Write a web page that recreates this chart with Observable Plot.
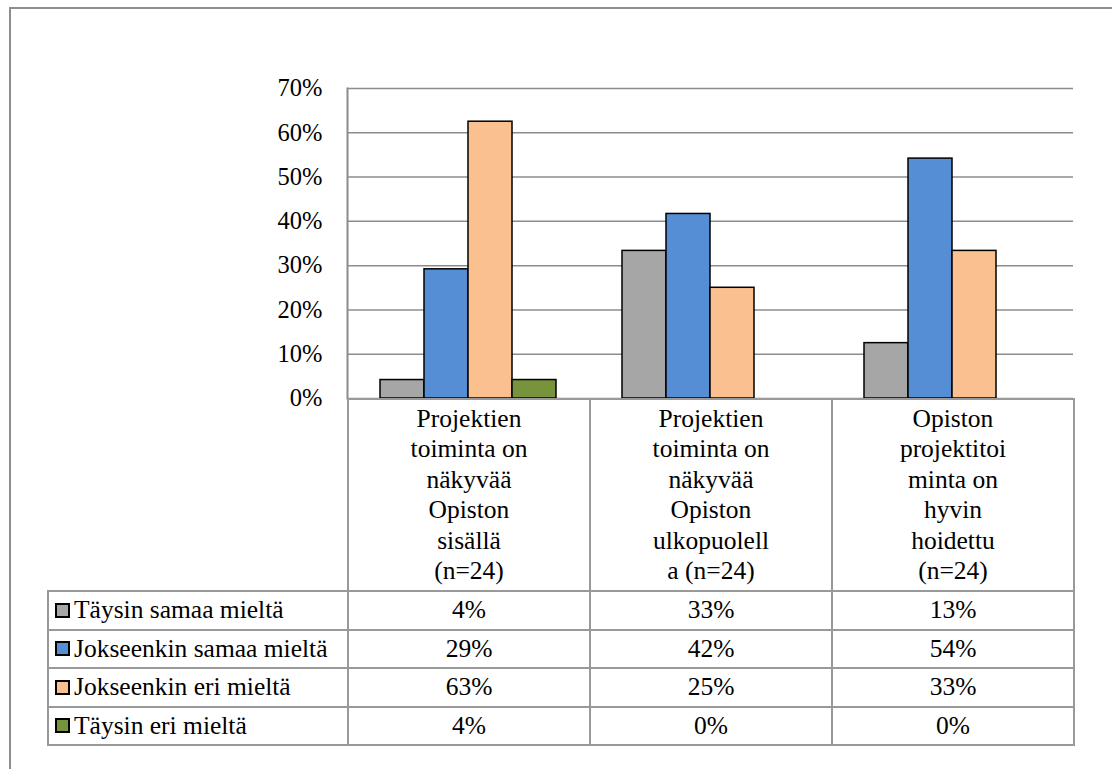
<!DOCTYPE html>
<html>
<head>
<meta charset="utf-8">
<script src="https://cdn.jsdelivr.net/npm/d3@7"></script>
<script src="https://cdn.jsdelivr.net/npm/@observablehq/plot@0.6"></script>
<style>
  body { margin: 0; background: #fff; }
  #wrap { position: relative; width: 1112px; height: 769px; overflow: hidden; background: #fff;
          font-family: "Liberation Serif", Tinos, "Times New Roman", Times, "DejaVu Serif", serif; color: #000; }
  #outline { position: absolute; left: 9px; top: 7px; right: -10px; bottom: -10px;
             border-top: 2px solid #8e8e8e; border-left: 2px solid #8e8e8e; }
  #chart { position: absolute; left: 0; top: 0; }
  #table { position: absolute; display: grid; box-sizing: content-box;
           border-right: 2px solid #999; border-bottom: 2px solid #999; font-size: 25.5px; }
  #table .cell { box-sizing: border-box; border-top: 2px solid #999; border-left: 2px solid #999;
                 display: flex; align-items: center; justify-content: center; text-align: center; }
  #table .corner { border-top: none; border-left: none; }
  #table .head { align-items: flex-start; padding-top: 4px; white-space: pre-line; line-height: 30.4px; }
  #table .name { justify-content: flex-start; padding-left: 6px; white-space: nowrap; }
  #table .key { display: inline-block; width: 11px; height: 11px; border: 2px solid #000;
                margin-right: 4px; flex: none; }
</style>
</head>
<body>
<div id="wrap">
  <div id="outline"></div>
  <div id="chart"></div>
  <div id="table"></div>
</div>
<script>
// Survey statements (column headers, with the wrapping used in the table)
const categories = [
  "Projektien\ntoiminta on\nnäkyvää\nOpiston\nsisällä\n(n=24)",
  "Projektien\ntoiminta on\nnäkyvää\nOpiston\nulkopuolell\na (n=24)",
  "Opiston\nprojektitoi\nminta on\nhyvin\nhoidettu\n(n=24)"
];

// Answer options
const series = [
  "Täysin samaa mieltä",
  "Jokseenkin samaa mieltä",
  "Jokseenkin eri mieltä",
  "Täysin eri mieltä"
];

// Share of respondents per statement, one list per answer option
const taysinSamaa     = [0.0417, 0.3333, 0.125];
const jokseenkinSamaa = [0.2917, 0.4167, 0.5417];
const jokseenkinEri   = [0.625, 0.25, 0.3333];
const taysinEri       = [0.0417, 0, 0];
const seriesValues = [taysinSamaa, jokseenkinSamaa, jokseenkinEri, taysinEri];

// Value axis ticks
const yTicks = [0, 0.1, 0.2, 0.3, 0.4, 0.5, 0.6, 0.7];

const seriesColors = ["#a6a6a6", "#558ed5", "#fac090", "#77933c"];
const pct = d3.format(".0%");
const serif = '"Liberation Serif", Tinos, "Times New Roman", Times, "DejaVu Serif", serif';

const data = series.flatMap((s, i) =>
  categories.map((c, j) => ({series: s, category: c, value: seriesValues[i][j]}))
);

const chart = Plot.plot({
  width: 1112,
  height: 399,
  marginTop: 88,
  marginRight: 39,
  marginBottom: 1,
  marginLeft: 347,
  style: {
    fontFamily: serif,
    fontSize: "24.5px",
    color: "#000",
    background: "transparent",
    overflow: "visible"
  },
  fx: {domain: categories, padding: 0, axis: null},
  x: {domain: series, paddingInner: 0, paddingOuter: 0.75, axis: null},
  y: {domain: [0, 0.7], axis: null},
  color: {domain: series, range: seriesColors},
  marks: [
    Plot.gridY(yTicks, {stroke: "#8c8c8c", strokeOpacity: 1, strokeWidth: 1.5}),
    Plot.frame({anchor: "left", facetAnchor: "left", stroke: "#8c8c8c", strokeWidth: 2}),
    Plot.axisY(yTicks, {tickSize: 0, tickPadding: 25, tickFormat: ".0%", label: null, fontSize: 24.5, fill: "#000"}),
    Plot.barY(data, {
      filter: (d) => d.value > 0,
      fx: "category",
      x: "series",
      y: "value",
      fill: "series",
      stroke: "#000",
      strokeWidth: 1.5
    })
  ]
});
chart.querySelectorAll("text").forEach((t) => t.setAttribute("font-family", serif));
document.getElementById("chart").append(chart);

// Data table under the chart, aligned with the category bands
const fx = chart.scale("fx");
const left0 = fx.range ? fx.range[0] : 347;
const band = fx.bandwidth || fx.step || 242;
const tableLeft = 47;
const table = document.getElementById("table");
table.style.left = tableLeft + "px";
table.style.top = "398px";
table.style.gridTemplateColumns = `${left0 - tableLeft}px repeat(${categories.length}, ${band}px)`;
table.style.gridTemplateRows = `192px repeat(${series.length}, 38.5px)`;

function cell(cls, content) {
  const el = document.createElement("div");
  el.className = "cell " + cls;
  if (content != null) el.textContent = content;
  table.append(el);
  return el;
}

cell("corner");
categories.forEach((c) => cell("head", c));
series.forEach((s, i) => {
  const nameCell = cell("name");
  const key = document.createElement("span");
  key.className = "key";
  key.style.background = seriesColors[i];
  nameCell.append(key, document.createTextNode(s));
  seriesValues[i].forEach((v) => cell("val", pct(v)));
});
</script>
</body>
</html>
